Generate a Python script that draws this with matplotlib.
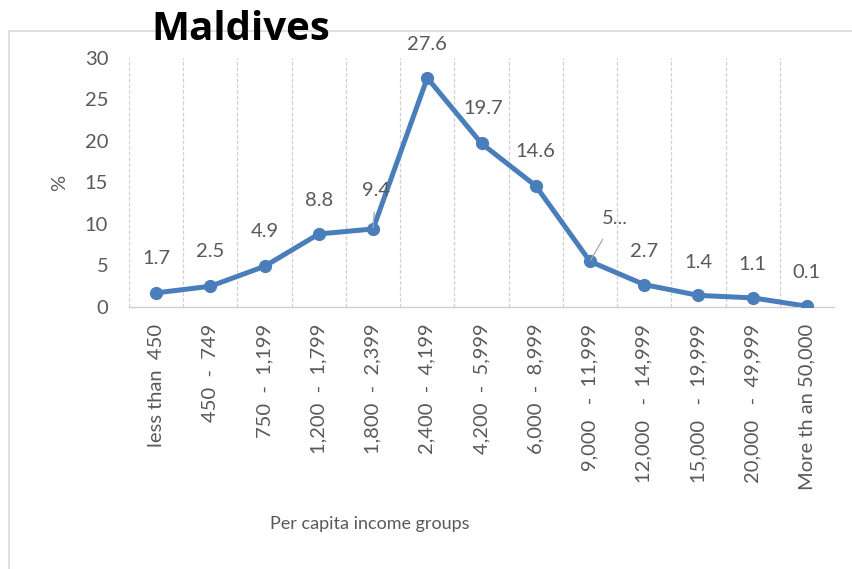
import matplotlib
matplotlib.use("Agg")
import matplotlib.pyplot as plt
from matplotlib.patches import Rectangle
import numpy as np

categories = ["less than  450", "450  -  749", "750  -  1,199", "1,200  -  1,799", "1,800  -  2,399",
              "2,400  -  4,199", "4,200  -  5,999", "6,000  -  8,999", "9,000   -  11,999",
              "12,000   -  14,999", "15,000   -  19,999", "20,000   -  49,999", "More th an 50,000"]
values = [1.7, 2.5, 4.9, 8.8, 9.4, 27.6, 19.7, 14.6, 5.5, 2.7, 1.4, 1.1, 0.1]
value_labels = ["1.7", "2.5", "4.9", "8.8", "9.4", "27.6", "19.7", "14.6", "5...", "2.7", "1.4", "1.1", "0.1"]
yticks = [0, 5, 10, 15, 20, 25, 30]

# label offsets in points (dx, dy), and whether a leader line is drawn
label_offsets = [(0, 25), (0, 25), (0, 25), (0, 24), (2, 28), (0, 24), (1, 25), (0, 25),
                 (18, 31), (0, 24), (0, 24), (0, 24), (0, 24)]
leaders = [False, False, False, False, True, False, False, False, True, False, False, False, False]

FONT = "Lato"
GRAY = "#595959"
LINE = "#4a7ebb"
FS = 14.5

fig = plt.figure(figsize=(8.52, 5.69), dpi=100)
ax = fig.add_axes([129/852, 1-307/569, 705/852, 249/569])

x = np.arange(len(categories))
ax.plot(x, values, color=LINE, lw=3.6, marker="o", ms=8.5, mfc=LINE, mec=LINE, zorder=3,
        solid_joinstyle="round")

ax.set_xlim(-0.5, len(categories) - 0.5)
ax.set_ylim(0, 30)
ax.set_yticks(yticks)
ax.set_yticklabels([str(t) for t in yticks], fontsize=FS, color=GRAY, family=FONT)
ax.tick_params(axis="y", length=0, pad=15)

ax.set_xticks(x)
ax.set_xticklabels(categories, rotation=90, fontsize=FS, color=GRAY, family=FONT, va="top")
ax.tick_params(axis="x", length=0, pad=12)

for b in np.arange(-0.5, len(categories), 1.0):
    ax.axvline(b, color="#d0d0d0", lw=0.9, ls=(0, (3, 1.5)), zorder=1)

for s in ["top", "right", "left"]:
    ax.spines[s].set_visible(False)
ax.spines["bottom"].set_color("#d0d0d0")
ax.spines["bottom"].set_linewidth(1.0)

for i, (v, lab) in enumerate(zip(values, value_labels)):
    dx, dy = label_offsets[i]
    if leaders[i]:
        ax.annotate(lab, (x[i], v), xytext=(dx, dy), textcoords="offset points",
                    ha="center", va="center", fontsize=FS, color=GRAY, family=FONT,
                    arrowprops=dict(arrowstyle="-", color="#a6a6a6", lw=0.9,
                                    shrinkA=8, shrinkB=1))
    else:
        ax.annotate(lab, (x[i], v), xytext=(dx, dy), textcoords="offset points",
                    ha="center", va="center", fontsize=FS, color=GRAY, family=FONT)

fig.text(60/852, 1-183/569, "%", rotation=90, ha="center", va="center",
         fontsize=FS, color=GRAY, family=FONT)
fig.text(370/852, 1-524/569, "Per capita income groups", ha="center", va="center",
         fontsize=13, color=GRAY, family=FONT)

fig.patches.append(Rectangle((9/852, -0.05), 1.2, 1-31/569+0.05, transform=fig.transFigure,
                             fill=False, edgecolor="#d9d9d9", lw=1.2, zorder=0))
fig.text(241/852, 1-29/569, "Maldives", ha="center", va="center", fontsize=29,
         fontweight="bold", color="black", family="Open Sans")

fig.savefig("out.png", dpi=100)
